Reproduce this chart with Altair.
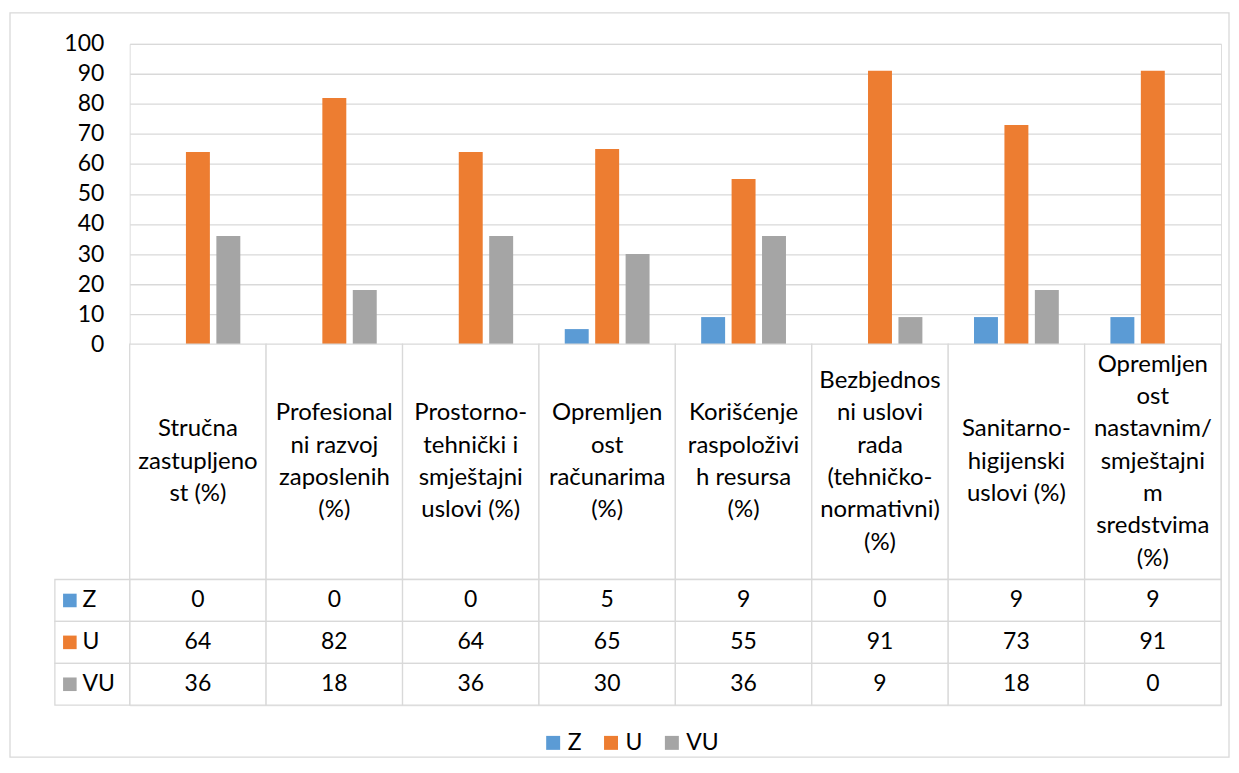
import altair as alt
import pandas as pd

categories = [
    "Stručna\nzastupljeno\nst (%)",
    "Profesional\nni razvoj\nzaposlenih\n(%)",
    "Prostorno-\ntehnički  i\nsmještajni\nuslovi (%)",
    "Opremljen\nost\nračunarima\n(%)",
    "Korišćenje\nraspoloživi\nh resursa\n(%)",
    "Bezbjednos\nni uslovi\nrada\n(tehničko-\nnormativni)\n(%)",
    "Sanitarno-\nhigijenski\nuslovi (%)",
    "Opremljen\nost\nnastavnim/\nsmještajni\nm\nsredstvima\n(%)",
]
series = ["Z", "U", "VU"]
z_values = [0, 0, 0, 5, 9, 0, 9, 9]
u_values = [64, 82, 64, 65, 55, 91, 73, 91]
vu_values = [36, 18, 36, 30, 36, 9, 18, 0]
y_ticks = [0, 10, 20, 30, 40, 50, 60, 70, 80, 90, 100]
colors = ["#5B9BD5", "#ED7D31", "#A5A5A5"]

FONT = "Lato"
FS = 23
GRID = "#d9d9d9"
HDR_H = 236
LINE_H = 32.4

rows = []
for s, vals in zip(series, [z_values, u_values, vu_values]):
    for c, v in zip(categories, vals):
        rows.append({"cat": c, "series": s, "value": v})
df = pd.DataFrame(rows)

x_cat = alt.X("cat:N", sort=categories,
              scale=alt.Scale(domain=categories, paddingInner=0, paddingOuter=0),
              axis=None)

bars = alt.Chart(df).mark_bar().encode(
    x=x_cat,
    xOffset=alt.XOffset("series:N", sort=series,
                        scale=alt.Scale(domain=series, paddingInner=0.213, paddingOuter=0.848)),
    y=alt.Y("value:Q", scale=alt.Scale(domain=[0, 100], nice=False),
            axis=alt.Axis(values=y_ticks, title=None, domain=False, ticks=False,
                          labelPadding=26, labelFontSize=FS, labelColor="#000000",
                          labelFont=FONT, gridColor=GRID, gridWidth=1.3)),
    color=alt.Color("series:N", sort=series,
                    scale=alt.Scale(domain=series, range=colors),
                    legend=alt.Legend(orient="none", legendX=413, legendY=689,
                                      direction="horizontal", title=None,
                                      symbolType="square", symbolSize=196,
                                      symbolStrokeWidth=0, symbolOpacity=1,
                                      labelFontSize=FS, labelFont=FONT,
                                      labelColor="#000000", labelOffset=3,
                                      columnPadding=18, padding=0)),
)

frame = alt.Chart(pd.DataFrame({"f": [0]})).mark_rect(
    fillOpacity=0, stroke=GRID, strokeWidth=1.3
).encode(x=alt.value(-120), x2=alt.value(1102), y=alt.value(-31), y2=alt.value(715))

top = alt.layer(bars, frame).properties(width=1094, height=301)

# header row of the data table: one text per wrapped line, centred on the row
hdr_df = pd.DataFrame({"cat": categories, "row": ["h"] * len(categories)})
line_rows = []
for c in categories:
    parts = c.split("\n")
    n = len(parts)
    for i, t in enumerate(parts):
        line_rows.append({"cat": c, "line": t, "pos": (n - 1) / 2 - i})
lines_df = pd.DataFrame(line_rows)
half = HDR_H / (2 * LINE_H)

y_h = alt.Y("row:N", scale=alt.Scale(paddingInner=0, paddingOuter=0), axis=None)
hdr_rect = alt.Chart(hdr_df).mark_rect(fill="white", stroke=GRID, strokeWidth=1.3).encode(x=x_cat, y=y_h)
hdr_text = alt.Chart(lines_df).mark_text(
    fontSize=24, font=FONT, color="#000000", baseline="middle"
).encode(x=x_cat,
         y=alt.Y("pos:Q", scale=alt.Scale(domain=[-half, half], nice=False, zero=False), axis=None),
         text="line:N")
header = alt.layer(hdr_rect, hdr_text).resolve_scale(y="independent").properties(width=1094, height=HDR_H)

# value rows of the data table
y_s = alt.Y("series:N", sort=series,
            scale=alt.Scale(domain=series, paddingInner=0, paddingOuter=0), axis=None)
vals_rect = alt.Chart(df).mark_rect(fill="white", stroke=GRID, strokeWidth=1.3).encode(x=x_cat, y=y_s)
vals_text = alt.Chart(df).mark_text(
    fontSize=FS, font=FONT, color="#000000", baseline="middle"
).encode(x=x_cat, y=y_s, text="value:Q")

key_df = pd.DataFrame({"series": series, "key": ["k"] * 3, "hex": colors})
key_scale = alt.Scale(domain=["k"], range=[-75, 0], paddingInner=0, paddingOuter=0)
key_rect = alt.Chart(key_df).mark_rect(fill="white", stroke=GRID, strokeWidth=1.3).encode(
    x=alt.X("key:N", scale=key_scale, axis=None), y=y_s)
key_sq = alt.Chart(key_df).mark_point(shape="square", filled=True, size=185, opacity=1).encode(
    x=alt.X("key:N", scale=key_scale, axis=None, bandPosition=0.2), y=y_s,
    fill=alt.Fill("hex:N", scale=None))
key_txt = alt.Chart(key_df).mark_text(
    align="left", fontSize=FS, font=FONT, color="#000000", baseline="middle"
).encode(x=alt.X("key:N", scale=key_scale, axis=None, bandPosition=0.37), y=y_s, text="series:N")

values = alt.layer(
    alt.layer(vals_rect, vals_text),
    alt.layer(key_rect, key_sq, key_txt),
).resolve_scale(x="independent").properties(width=1094, height=126)

chart = alt.vconcat(top, header, values, spacing=0, bounds="flush").properties(
    padding={"left": 0, "top": 2, "right": 0, "bottom": 0}
).configure_view(stroke=None).configure(font=FONT)

chart.save("out.html", embed_options={"renderer": "svg", "actions": False})
